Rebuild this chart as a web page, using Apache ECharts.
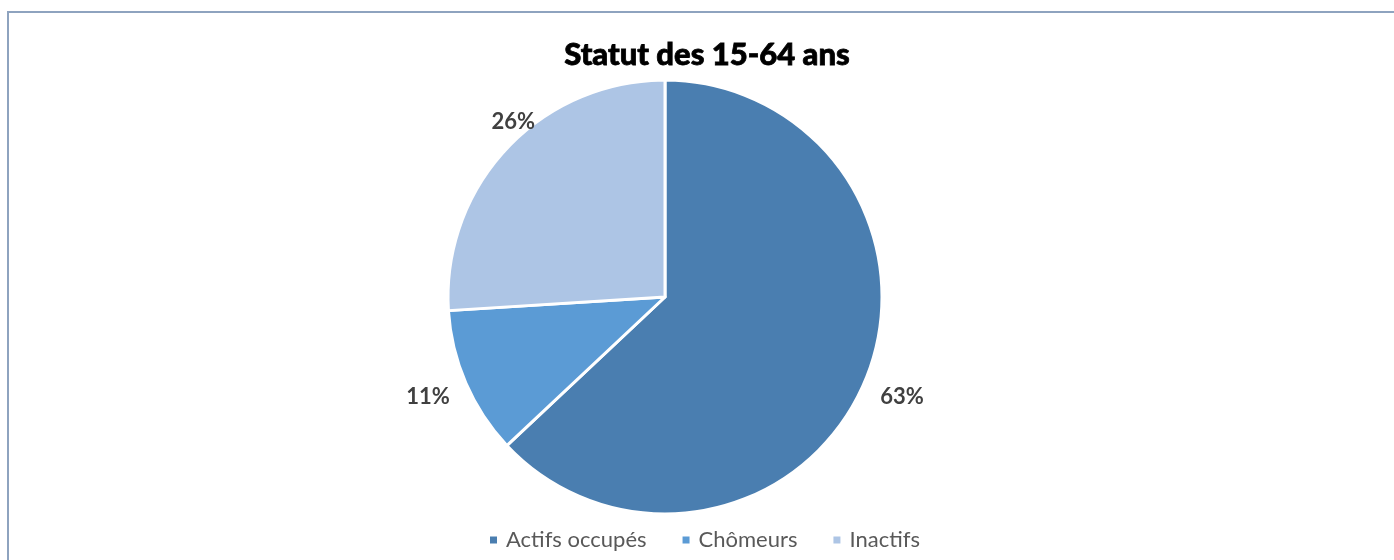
<!DOCTYPE html>
<html>
<head>
<meta charset="utf-8">
<script src="https://cdn.jsdelivr.net/npm/echarts@6/dist/echarts.min.js"></script>
<style>
html,body{margin:0;padding:0;background:#fff;}
#chart{width:1394px;height:560px;}
</style>
</head>
<body>
<div id="chart"></div>
<script>
const categories = ['Actifs occupés', 'Chômeurs', 'Inactifs'];
const values = [63, 11, 26];
const colors = ['#4A7EB0', '#5B9BD5', '#ADC5E5'];
const titleText = 'Statut des 15-64 ans';

const chart = echarts.init(document.getElementById('chart'), null, {renderer: 'canvas'});
const data = categories.map((c, i) => ({name: c, value: values[i], itemStyle: {color: colors[i]}}));

chart.setOption({
  animation: false,
  graphic: [{
    type: 'rect',
    shape: {x: 8, y: 12, width: 1500, height: 700},
    style: {fill: 'none', stroke: '#8EA3BF', lineWidth: 2}
  }],
  title: {
    text: titleText,
    left: 702,
    textAlign: 'center',
    top: 34,
    textStyle: {fontFamily: 'Lato', fontWeight: 900, fontSize: 31, color: '#000', textBorderColor: '#000', textBorderWidth: 0.8}
  },
  legend: {
    data: categories,
    bottom: 4,
    left: 483,
    icon: 'rect',
    itemWidth: 9,
    itemHeight: 9,
    itemGap: 34,
    textStyle: {fontFamily: 'Lato', fontSize: 22, color: '#595959', padding: [0, 0, 0, 3]}
  },
  series: [{
    type: 'pie',
    center: [665, 297],
    radius: 217,
    startAngle: 90,
    clockwise: true,
    data: data,
    itemStyle: {borderColor: '#fff', borderWidth: 3},
    label: {
      show: true,
      position: 'outside',
      formatter: '{c}%',
      fontFamily: 'Lato',
      fontWeight: 'bold',
      fontSize: 22,
      color: '#404040'
    },
    labelLine: {show: false, length: 12, length2: 0},
    labelLayout: function (p) {
      if (p.dataIndex === 2) return {dx: 42, dy: -18};
      if (p.dataIndex === 0) return {dy: 9};
      if (p.dataIndex === 1) return {dy: 9};
    }
  }]
});
</script>
</body>
</html>
